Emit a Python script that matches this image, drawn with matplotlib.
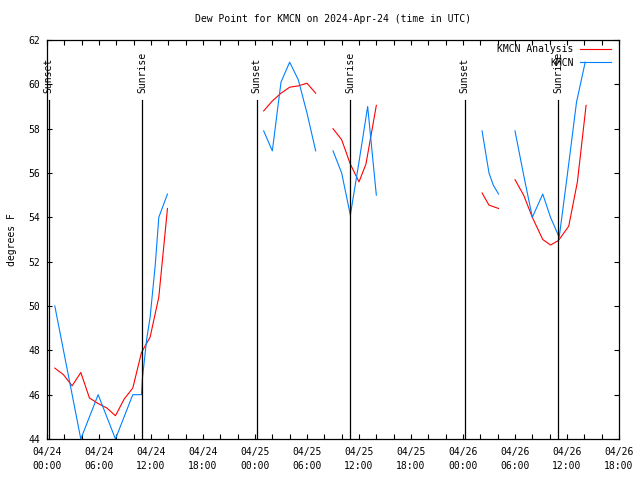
import matplotlib
matplotlib.use("Agg")
import matplotlib.pyplot as plt
from matplotlib.ticker import MultipleLocator
import numpy as np

plt.rcParams['font.family'] = ['DejaVu Sans Mono']
plt.rcParams['font.size'] = 7

# hours since 2024-04-24 00:00 UTC, one list per segment
obs_t = [[0.9, 1.9, 2.9, 3.9, 4.9, 5.9, 6.9, 7.9, 8.9, 9.9, 10.9, 11.0, 11.5, 11.9, 12.5, 12.9, 13.9],
         [25, 26, 27, 28, 29, 30, 31],
         [33, 34, 35, 36, 37, 38],
         [50.2, 51, 51.5, 52.1],
         [54, 55, 56, 57.2, 58.1, 59.1, 60, 61.1, 62.1]]
obs_dp = [[50, 48, 46, 44, 45, 46, 45, 44, 45, 46, 46, 46.7, 48.5, 49.5, 51.9, 54.0, 55.05],
          [57.9, 57.0, 60.1, 61.0, 60.2, 58.7, 57.0],
          [57.0, 56.0, 54.1, 56.5, 59.0, 55.0],
          [57.9, 56.0, 55.45, 55.05],
          [57.9, 55.9, 54.0, 55.05, 54.0, 53.1, 55.8, 59.2, 61.0]]

ana_t = [[0.9, 1.9, 2.9, 3.9, 4.9, 5.9, 6.9, 7.9, 8.9, 9.9, 10.9, 11.9, 12.9, 13.4, 13.9],
         [25, 26, 27, 28, 29, 30, 31],
         [33, 34, 35, 36, 36.8, 37.3, 38],
         [50.2, 51, 52.1],
         [54, 55, 56, 57.2, 58.1, 59, 60.2, 61.2, 62.2]]
ana_dp = [[47.2, 46.9, 46.4, 47.0, 45.85, 45.6, 45.4, 45.05, 45.8, 46.3, 47.9, 48.6, 50.4, 52.4, 54.4],
          [58.8, 59.25, 59.6, 59.87, 59.93, 60.05, 59.6],
          [58.0, 57.5, 56.4, 55.6, 56.4, 57.5, 59.05],
          [55.1, 54.55, 54.4],
          [55.7, 55.0, 54.0, 53.0, 52.75, 52.95, 53.6, 55.6, 59.05]]

sun_t = [0.18, 10.98, 24.18, 34.98, 48.18, 58.95]
sun_lbl = ['Sunset', 'Sunrise', 'Sunset', 'Sunrise', 'Sunset', 'Sunrise']

xtick_lbl = ['04/24\n00:00', '04/24\n06:00', '04/24\n12:00', '04/24\n18:00',
             '04/25\n00:00', '04/25\n06:00', '04/25\n12:00', '04/25\n18:00',
             '04/26\n00:00', '04/26\n06:00', '04/26\n12:00', '04/26\n18:00']


def join(ts, vs):
    x, y = [], []
    for t, v in zip(ts, vs):
        x += list(t) + [np.nan]
        y += list(v) + [np.nan]
    return np.array(x), np.array(y)


fig = plt.figure(figsize=(6.4, 4.8), dpi=100)
ax = fig.add_axes([47/640, 41/480, 572/640, 399/480])

xa, ya = join(ana_t, ana_dp)
xo, yo = join(obs_t, obs_dp)
ax.plot(xa, ya, color='#ff0000', lw=0.8, label='KMCN Analysis')
ax.plot(xo, yo, color='#0080ff', lw=0.8, label='KMCN')

for t, s in zip(sun_t, sun_lbl):
    ax.plot([t, t], [44, 59.3], color='black', lw=0.9)
    ax.text(t, 59.6, s, rotation=90, ha='center', va='bottom')

ax.set_xlim(0, 66)
ax.set_ylim(44, 62)
ax.set_xticks(np.arange(0, 67, 6))
ax.set_xticklabels(xtick_lbl, linespacing=1.4)
ax.xaxis.set_minor_locator(MultipleLocator(2))
ax.yaxis.set_major_locator(MultipleLocator(2))
ax.tick_params(which='both', direction='in', top=True, right=True, length=3.5, width=0.8)
ax.tick_params(axis='x', pad=6)
ax.tick_params(axis='y', pad=5)
for sp in ax.spines.values():
    sp.set_linewidth(0.9)

ax.set_ylabel('degrees F', labelpad=8)
fig.text(0.52, 0.96, 'Dew Point for KMCN on 2024-Apr-24 (time in UTC)', ha='center', va='center')

ax.legend(loc='upper right', bbox_to_anchor=(1 - 4/572, 1.0), frameon=False, markerfirst=False,
          handlelength=3.2, handletextpad=0.6, labelspacing=0.35, borderaxespad=0.25, borderpad=0.2)

plt.savefig('out.png', dpi=100)
